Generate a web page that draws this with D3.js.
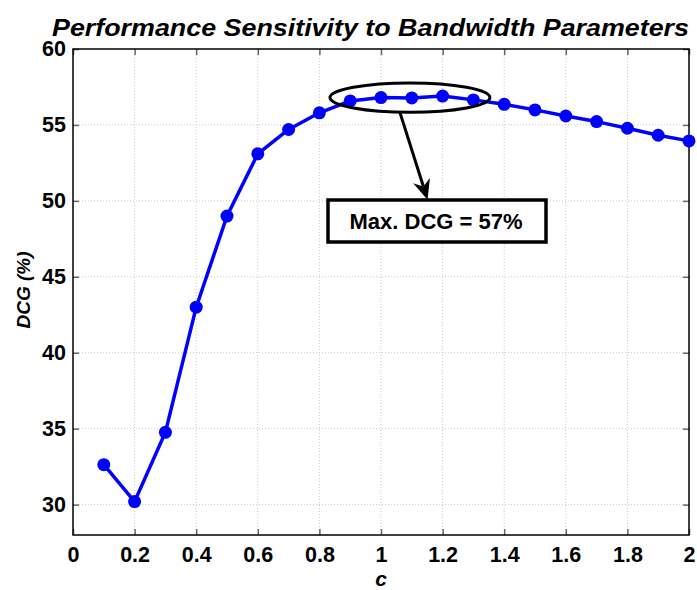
<!DOCTYPE html>
<html>
<head>
<meta charset="utf-8">
<script src="https://cdn.jsdelivr.net/npm/d3@7"></script>
<style>
body{margin:0;background:#fff;}
svg{display:block;}
text{font-family:"Liberation Sans",Arial,Helvetica,sans-serif;}
</style>
</head>
<body>
<svg id="chart" width="697" height="590"></svg>
<script>
const cValues = [0.1,0.2,0.3,0.4,0.5,0.6,0.7,0.8,0.9,1.0,1.1,1.2,1.3,1.4,1.5,1.6,1.7,1.8,1.9,2.0];
const dcgValues = [32.63,30.2,34.76,43.0,49.0,53.1,54.7,55.8,56.58,56.8,56.78,56.9,56.65,56.36,55.99,55.59,55.22,54.78,54.32,53.95];
const xTicks = [0,0.2,0.4,0.6,0.8,1,1.2,1.4,1.6,1.8,2];
const yTicks = [30,35,40,45,50,55,60];
const titleText = "Performance Sensitivity to Bandwidth Parameters";
const xLabel = "c";
const yLabel = "DCG (%)";
const annotationText = "Max. DCG = 57%";
const ellipseCenter = [1.094, 56.8];

const svg = d3.select("#chart");
const m = {left:73, right:689, top:49, bottom:535};
const x = d3.scaleLinear().domain([0,2]).range([m.left, m.right]);
const y = d3.scaleLinear().domain([28,60]).range([m.bottom, m.top]);

// grid
const g = svg.append("g");
g.selectAll(".vg").data(xTicks.slice(1,-1)).enter().append("line")
  .attr("x1",d=>x(d)).attr("x2",d=>x(d)).attr("y1",m.top).attr("y2",m.bottom)
  .attr("stroke","#c8c8c8").attr("stroke-width",1).attr("stroke-dasharray","1,2");
g.selectAll(".hg").data(yTicks.filter(d=>d<60)).enter().append("line")
  .attr("y1",d=>y(d)).attr("y2",d=>y(d)).attr("x1",m.left).attr("x2",m.right)
  .attr("stroke","#c8c8c8").attr("stroke-width",1).attr("stroke-dasharray","1,2");

// axes
const xAxisB = d3.axisBottom(x).tickValues(xTicks).tickSizeInner(-6).tickSizeOuter(0).tickPadding(12).tickFormat(d3.format("~g"));
const xAxisT = d3.axisTop(x).tickValues(xTicks).tickSizeInner(-6).tickSizeOuter(0).tickFormat("");
const yAxisL = d3.axisLeft(y).tickValues(yTicks).tickSizeInner(-6).tickSizeOuter(0).tickPadding(7);
const yAxisR = d3.axisRight(y).tickValues(yTicks).tickSizeInner(-6).tickSizeOuter(0).tickFormat("");

function style(sel){
  sel.select(".domain").remove();
  sel.selectAll(".tick line").attr("stroke","#666").attr("stroke-width",1.5);
  sel.selectAll(".tick text").attr("fill","#000").style("font-size","21.5px").style("font-weight","bold");
}
svg.append("g").attr("transform",`translate(0,${m.bottom})`).call(xAxisB).call(style);
svg.append("g").attr("transform",`translate(0,${m.top})`).call(xAxisT).call(style);
svg.append("g").attr("transform",`translate(${m.left},0)`).call(yAxisL).call(style);
svg.append("g").attr("transform",`translate(${m.right},0)`).call(yAxisR).call(style);

// frame
svg.append("rect").attr("x",m.left).attr("y",m.top).attr("width",m.right-m.left).attr("height",m.bottom-m.top)
  .attr("fill","none").attr("stroke","#000").attr("stroke-width",1.5);

// line
const data = cValues.map((c,i)=>({c, v:dcgValues[i]}));
svg.append("path").datum(data)
  .attr("d", d3.line().x(d=>x(d.c)).y(d=>y(d.v)))
  .attr("fill","none").attr("stroke","#0000ff").attr("stroke-width",3.5).attr("stroke-linejoin","round");
svg.selectAll(".pt").data(data).enter().append("circle")
  .attr("cx",d=>x(d.c)).attr("cy",d=>y(d.v)).attr("r",6.5).attr("fill","#0000ff");

// annotation ellipse
const ex = x(ellipseCenter[0]), ey = y(ellipseCenter[1]);
svg.append("ellipse").attr("cx",ex).attr("cy",ey).attr("rx",80).attr("ry",14.7)
  .attr("fill","none").attr("stroke","#000").attr("stroke-width",3);

// arrow
const ax1 = 400, ay1 = ey+15, ax2 = 427, ay2 = 198;
const ang = Math.atan2(ay2-ay1, ax2-ax1);
const hl = 16, hw = 7;
const bx = ax2 - hl*Math.cos(ang), by = ay2 - hl*Math.sin(ang);
svg.append("line").attr("x1",ax1).attr("y1",ay1).attr("x2",bx+4*Math.cos(ang)).attr("y2",by+4*Math.sin(ang))
  .attr("stroke","#000").attr("stroke-width",3);
svg.append("path").attr("d",`M${ax2},${ay2} L${bx - hw*Math.sin(ang)},${by + hw*Math.cos(ang)} L${bx+5*Math.cos(ang)},${by+5*Math.sin(ang)} L${bx + hw*Math.sin(ang)},${by - hw*Math.cos(ang)} Z`)
  .attr("fill","#000").attr("stroke","#000").attr("stroke-width",1.5).attr("stroke-linejoin","miter");

// box
svg.append("rect").attr("x",328).attr("y",200).attr("width",218).attr("height",42)
  .attr("fill","#fff").attr("stroke","#000").attr("stroke-width",3.5);
svg.append("text").attr("x",436).attr("y",229).attr("text-anchor","middle")
  .style("font-size","22px").style("font-weight","bold").text(annotationText);

// title & labels
svg.append("text").attr("x",52).attr("y",36)
  .attr("textLength",637).attr("lengthAdjust","spacingAndGlyphs")
  .style("font-size","23px").style("font-weight","bold").style("font-style","italic").text(titleText);
svg.append("text").attr("x",381).attr("y",586).attr("text-anchor","middle")
  .style("font-size","21px").style("font-weight","bold").style("font-style","italic").text(xLabel);
svg.append("text").attr("transform","translate(30,290) rotate(-90)").attr("text-anchor","middle")
  .style("font-size","19px").style("font-weight","bold").style("font-style","italic").text(yLabel);
</script>
</body>
</html>
